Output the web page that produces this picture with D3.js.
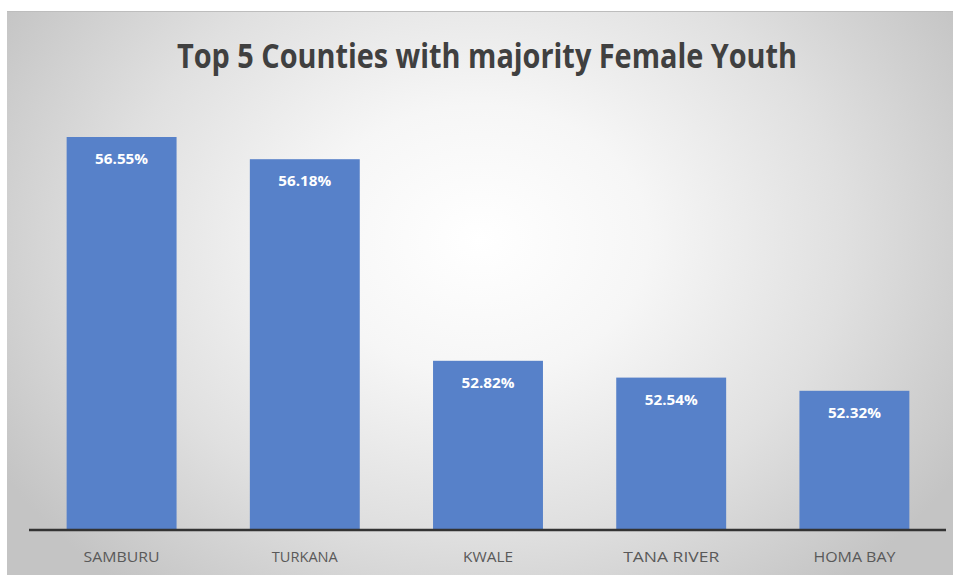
<!DOCTYPE html>
<html><head><meta charset="utf-8">
<script src="https://cdn.jsdelivr.net/npm/d3@7"></script>
<style>html,body{margin:0;padding:0;background:#fff;}svg{display:block;}</style>
</head><body>
<script>
const categories = ["SAMBURU", "TURKANA", "KWALE", "TANA RIVER", "HOMA BAY"];
const values = [56.55, 56.18, 52.82, 52.54, 52.32];
const valueLabels = ["56.55%", "56.18%", "52.82%", "52.54%", "52.32%"];
const title = "Top 5 Counties with majority Female Youth";

const W = 953, H = 575;
const svg = d3.select("body").append("svg").attr("width", W).attr("height", H);
const defs = svg.append("defs");
const grad = defs.append("radialGradient").attr("id", "bg")
  .attr("gradientUnits", "userSpaceOnUse")
  .attr("cx", 480).attr("cy", 240).attr("r", 560)
  .attr("gradientTransform", "translate(480,240) scale(1,0.8) translate(-480,-240)");
grad.append("stop").attr("offset", "0").attr("stop-color", "#ffffff");
grad.append("stop").attr("offset", "0.3").attr("stop-color", "#f6f6f6");
grad.append("stop").attr("offset", "0.65").attr("stop-color", "#e0e0e0");
grad.append("stop").attr("offset", "1").attr("stop-color", "#c4c4c4");

svg.append("rect").attr("x", 7).attr("y", 11).attr("width", W - 7).attr("height", H - 11).attr("fill", "url(#bg)");
svg.append("line").attr("x1", 7).attr("x2", W).attr("y1", 11.5).attr("y2", 11.5).attr("stroke", "#bdbdbd").attr("stroke-width", 1);

const x = d3.scaleBand().domain(categories).range([30, 946]).paddingInner(0.4).paddingOuter(0.2);
const y = d3.scaleLinear().domain([50, 58]).range([530, 50]);

svg.append("text").attr("x", 487).attr("y", 68).attr("text-anchor", "middle")
  .attr("font-family", "Open Sans").attr("font-weight", "bold").attr("font-size", 34)
  .attr("fill", "#404040").attr("textLength", 620).attr("lengthAdjust", "spacingAndGlyphs")
  .text(title);

const g = svg.append("g");
g.selectAll("rect.bar").data(values).join("rect").attr("class", "bar")
  .attr("x", (d, i) => x(categories[i])).attr("width", x.bandwidth())
  .attr("y", d => y(d)).attr("height", d => y(50) - y(d))
  .attr("fill", "#5781c9");

g.selectAll("text.val").data(values).join("text").attr("class", "val")
  .attr("x", (d, i) => x(categories[i]) + x.bandwidth() / 2)
  .attr("y", d => y(d) + 27)
  .attr("text-anchor", "middle").attr("font-family", "Open Sans").attr("font-weight", "bold")
  .attr("font-size", 15).attr("fill", "#ffffff")
  .attr("textLength", 53).attr("lengthAdjust", "spacingAndGlyphs")
  .text((d, i) => valueLabels[i]);

const labelWidths = [76, 66, 50, 96, 82];
const axis = d3.axisBottom(x).tickSize(0).tickPadding(21);
const ax = svg.append("g").attr("transform", "translate(0,530)").call(axis);
ax.select(".domain").attr("stroke", "#333333").attr("stroke-width", 2.5).attr("d", "M29,0H946");
ax.selectAll("text").attr("font-family", "Open Sans").attr("font-size", 15).attr("fill", "#595959")
  .attr("dy", "0.71em")
  .attr("textLength", (d, i) => labelWidths[i]).attr("lengthAdjust", "spacingAndGlyphs");
</script>
</body></html>
